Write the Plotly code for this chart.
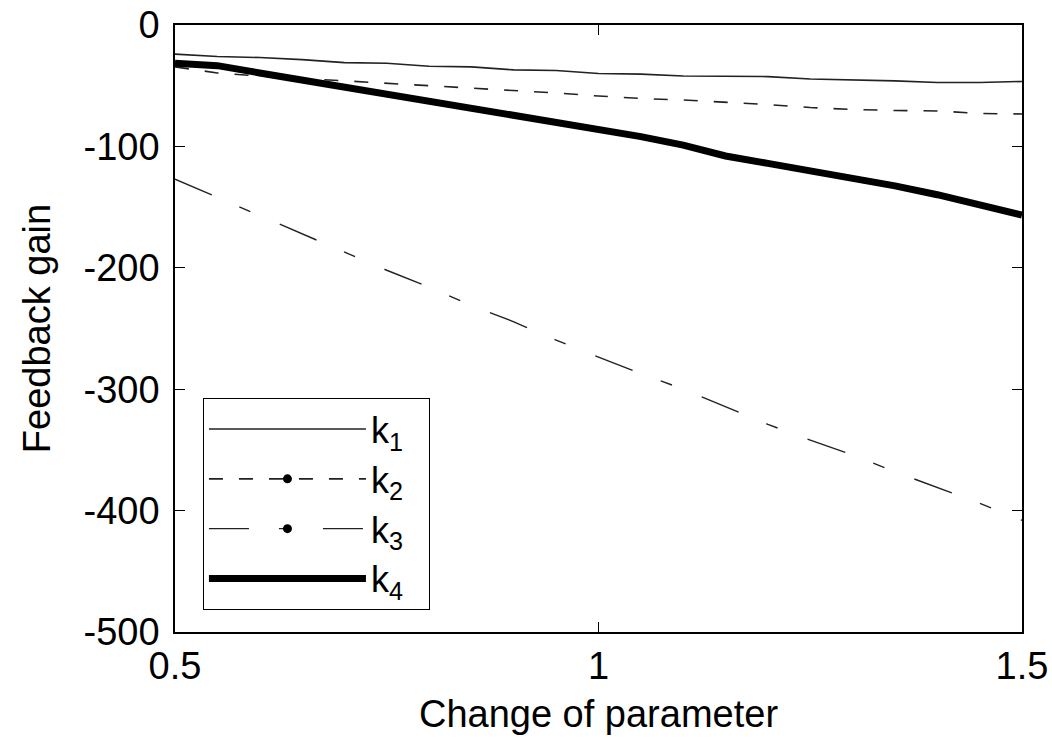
import plotly.graph_objects as go

# ---- data ----
param = [0.50, 0.55, 0.60, 0.65, 0.70, 0.75, 0.80, 0.85, 0.90, 0.95, 1.00,
         1.05, 1.10, 1.15, 1.20, 1.25, 1.30, 1.35, 1.40, 1.45, 1.50]

k1 = [-24.0, -26.0, -26.8, -28.5, -31.0, -31.5, -34.0, -34.5, -37.0, -37.5, -40.0,
      -40.5, -42.0, -42.0, -42.5, -44.5, -45.0, -46.0, -47.4, -47.4, -46.5]

k2 = [-34.5, -39.5, -42.0, -44.0, -45.7, -47.4, -49.4, -51.9, -54.0, -56.0, -58.5,
      -60.5, -61.8, -63.4, -65.5, -68.0, -69.6, -70.4, -70.8, -72.9, -73.3]

k3 = [-127.0, -142.0, -157.5, -172.0, -187.3, -202.0, -216.0, -231.0, -244.5, -259.6, -273.6,
      -287.2, -299.9, -314.3, -329.0, -342.0, -354.2, -368.0, -381.0, -394.0, -408.0]

k4 = [-31.5, -33.5, -39.5, -45.3, -51.2, -56.5, -62.2, -68.3, -74.2, -80.0, -86.0,
      -91.9, -99.0, -107.9, -114.0, -119.8, -125.7, -132.5, -139.8, -148.0, -156.5]

series_names = ["k<sub>1</sub>", "k<sub>2</sub>", "k<sub>3</sub>", "k<sub>4</sub>"]

x_tickvals = [0.5, 1, 1.5]
x_ticktext = ["0.5", "1", "1.5"]
y_tickvals = [0, -100, -200, -300, -400, -500]
y_ticktext = ["0", "-100", "-200", "-300", "-400", "-500"]

x_title = "Change of parameter"
y_title = "Feedback gain"

# ---- styles ----
FONT = "Liberation Sans, Arial, sans-serif"
styles = [
    dict(color="#222", width=1.6, dash="solid"),
    dict(color="#222", width=1.6, dash="14px,16px"),
    dict(color="#222", width=1.4, dash="40px,30px,12px,32px"),
    dict(color="#000", width=7, dash="solid"),
]
legend_marker = [False, True, True, False]
legend_pad = "\u00a0\u00a0"

fig = go.Figure()
for name, ys, st in zip(series_names, [k1, k2, k3, k4], styles):
    fig.add_trace(go.Scatter(x=param, y=ys, mode="lines", line=st,
                             name=name, showlegend=False, hoverinfo="skip"))

# legend entries (style samples only)
for name, st, mk in zip(series_names, styles, legend_marker):
    fig.add_trace(go.Scatter(
        x=[None], y=[None],
        mode="lines+markers" if mk else "lines",
        line=st, marker=dict(size=9, color="#000"),
        name=name + legend_pad, showlegend=True))

axis_common = dict(
    showline=True, linecolor="#000", linewidth=1.5, mirror="ticks",
    ticks="inside", ticklen=10, tickwidth=1.2, tickcolor="#000",
    showgrid=False, zeroline=False, automargin=False,
    ticklabeloverflow="allow",
    tickfont=dict(family=FONT, size=38, color="#000"),
)

fig.update_layout(
    width=1052, height=748,
    margin=dict(l=175, r=30, t=25, b=116),
    paper_bgcolor="white", plot_bgcolor="white",
    font=dict(family=FONT, size=38, color="#000"),
    xaxis=dict(range=[0.5, 1.5], tickvals=x_tickvals, ticktext=x_ticktext,
               ticklabelstandoff=0,
               title=dict(text=x_title, standoff=14,
                          font=dict(family=FONT, size=38, color="#000")),
               **axis_common),
    yaxis=dict(range=[-500, 0], tickvals=y_tickvals, ticktext=y_ticktext,
               ticklabelstandoff=6,
               title=dict(text=y_title, standoff=21,
                          font=dict(family=FONT, size=38, color="#000")),
               **axis_common),
    legend=dict(x=0.033, y=0.036, xanchor="left", yanchor="bottom",
                bgcolor="white", bordercolor="#000", borderwidth=1,
                font=dict(family=FONT, size=36, color="#000"),
                itemwidth=157, tracegroupgap=0),
    showlegend=True,
)

# remove the browser's default page margin so the figure fills the window
fig.write_html("out.html",
               config={"displayModeBar": False},
               post_script="document.body.style.margin='0';"
                           "document.body.style.overflow='hidden';")
